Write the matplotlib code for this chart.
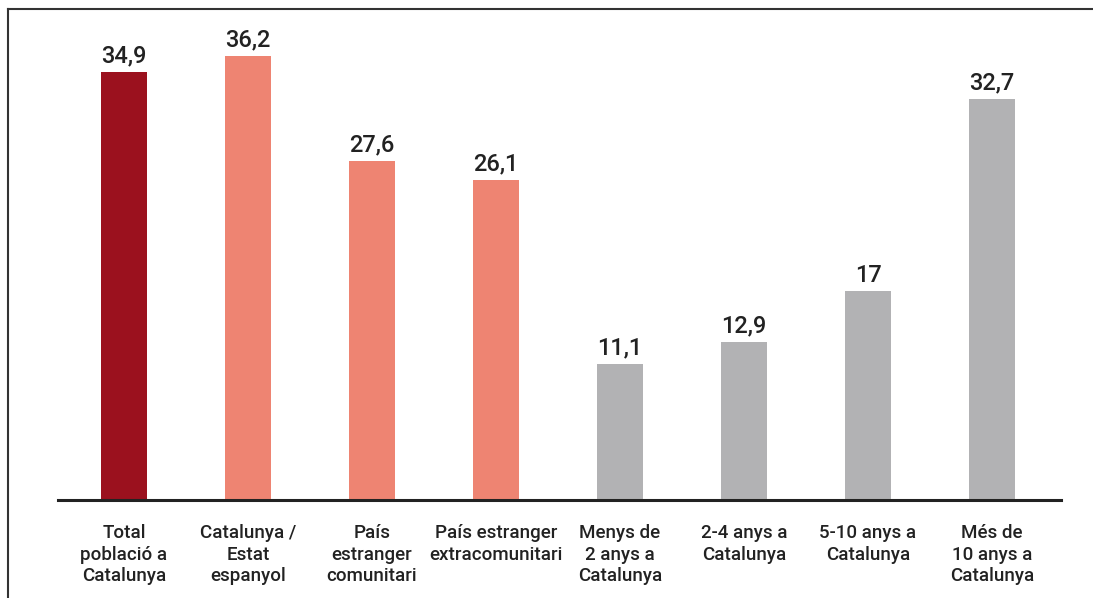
import matplotlib
matplotlib.use("Agg")
import matplotlib.pyplot as plt
from matplotlib.lines import Line2D

categories = ["Total\npoblació a\nCatalunya", "Catalunya /\nEstat\nespanyol", "País\nestranger\ncomunitari",
              "País estranger\nextracomunitari", "Menys de\n2 anys a\nCatalunya", "2-4 anys a\nCatalunya",
              "5-10 anys a\nCatalunya", "Més de\n10 anys a\nCatalunya"]
values = [34.9, 36.2, 27.6, 26.1, 11.1, 12.9, 17, 32.7]
value_labels = ["34,9", "36,2", "27,6", "26,1", "11,1", "12,9", "17", "32,7"]
colors = ["#9B111E", "#EE8472", "#EE8472", "#EE8472", "#B2B2B4", "#B2B2B4", "#B2B2B4", "#B2B2B4"]

W, H = 1093, 598
fig = plt.figure(figsize=(W/100, H/100), dpi=100)
plt.rcParams['font.family'] = ['Roboto', 'DejaVu Sans']

x0, x1 = 58, 1061
ytop, ybot = 20, 500
ax = fig.add_axes([x0/W, 1 - ybot/H, (x1-x0)/W, (ybot-ytop)/H])
xs = list(range(len(values)))
ax.bar(xs, values, width=0.37, color=colors, zorder=2)
ax.set_xlim(-0.532, 7.556)
ax.set_ylim(0, (ybot-ytop)/12.265)
for s in ["top", "right", "left"]:
    ax.spines[s].set_visible(False)
ax.spines["bottom"].set_linewidth(2.2)
ax.spines["bottom"].set_color("#222222")
ax.set_yticks([])
ax.set_xticks(xs)
ax.set_xticklabels(categories, fontsize=13.5, color="#222222", linespacing=1.28,
                   fontweight="medium")
ax.tick_params(axis="x", length=0, pad=17)
for xi, v, lab in zip(xs, values, value_labels):
    ax.annotate(lab, (xi, v), xytext=(0, 3.5), textcoords="offset points",
                ha="center", va="bottom", fontsize=17, color="#222222", fontweight="medium")

# frame lines (left and top)
fig.add_artist(Line2D([8/W, 8/W], [0, 1 - 9/H], transform=fig.transFigure, color="#333333", lw=1.5))
fig.add_artist(Line2D([8/W, 1], [1 - 9/H, 1 - 9/H], transform=fig.transFigure, color="#333333", lw=1.5))

fig.savefig("out.png", dpi=100, facecolor="white")
